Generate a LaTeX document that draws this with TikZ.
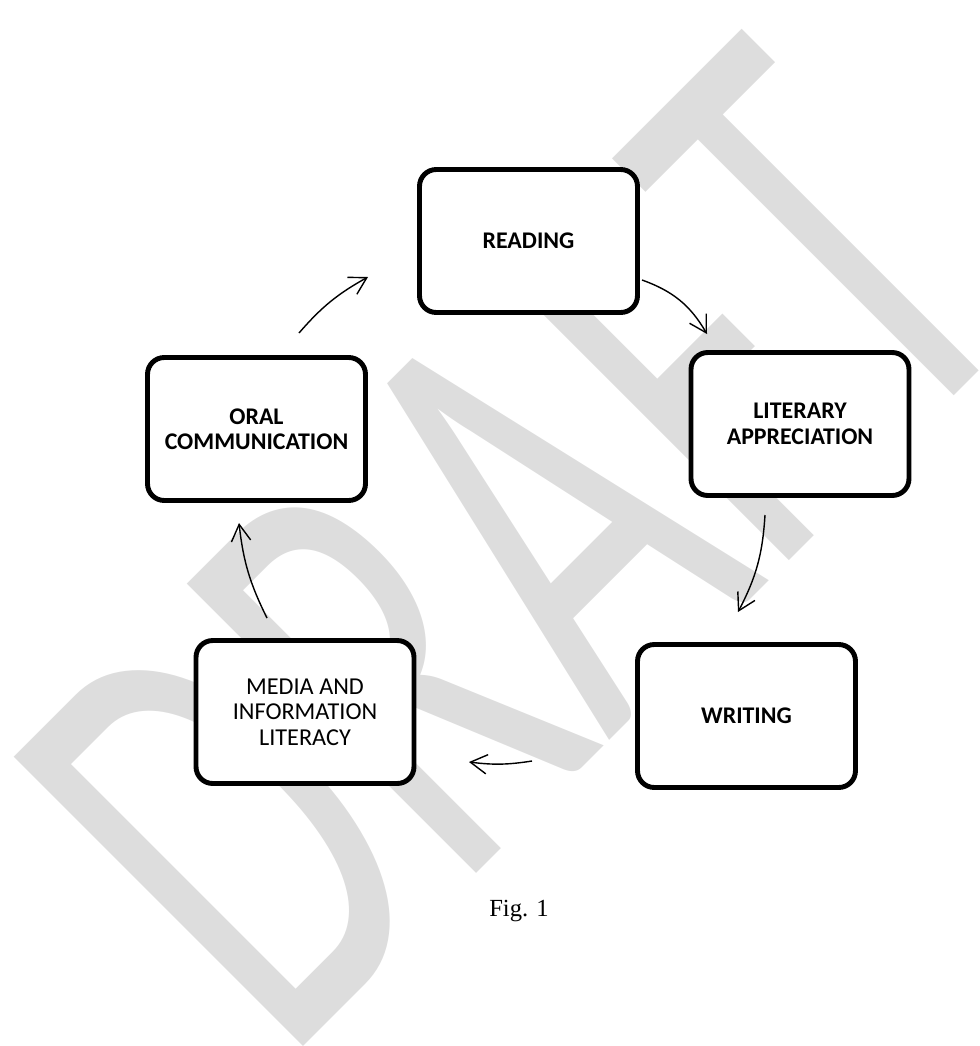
\documentclass[tikz,border=0pt]{standalone}
\usepackage{fontspec}
\setmainfont{Carlito}
\newfontfamily\figfont{Liberation Serif}
\newfontfamily\wmfont[FakeStretch=0.62]{Carlito}
\usepackage{tikz}
\usetikzlibrary{arrows.meta}
\definecolor{wmgray}{RGB}{221,221,221}

\begin{document}
\begin{tikzpicture}[x=0.02cm,y=0.02cm,
  stage/.style={draw,fill=white,line width=2.8pt,rounded corners=9.5pt,minimum width=4.36cm,minimum height=2.86cm,align=center,font=\fontsize{13.6}{14.5}\selectfont\bfseries},
  flow/.style={line width=0.8pt,-{Straight Barb[length=9.5pt,width=11pt]}}]
\useasboundingbox (0,0) rectangle (980,-1046);
\begin{scope}
\clip (0,0) rectangle (980,-1046);
\node (watermark) [anchor=base,rotate=45,text=wmgray,inner sep=0pt,font=\wmfont\fontsize{363}{363}\selectfont] at (660,-690) {DRAFT};
\end{scope}
\node (reading) [stage] at (528.5,-241) {READING};
\node (literary) [stage] at (800,-424) {LITERARY\\APPRECIATION};
\node (writing) [stage] at (746.5,-716) {WRITING};
\node (media) [stage,font=\fontsize{13.8}{14.5}\selectfont] at (305,-712) {MEDIA AND\\INFORMATION\\LITERACY};
\node (oral) [stage] at (256.5,-429) {ORAL\\COMMUNICATION};
\coordinate (o2r) at (299,-333);
\coordinate (r2o) at (368,-277);
\coordinate (r2l) at (642,-280);
\coordinate (l2r) at (707,-334);
\coordinate (l2w) at (765,-515);
\coordinate (w2l) at (738,-612);
\coordinate (w2m) at (532,-761);
\coordinate (m2w) at (469,-762);
\coordinate (m2o) at (267,-618);
\coordinate (o2m) at (239,-523);
\draw [flow] (o2r) to[bend left=10] (r2o);
\draw [flow] (r2l) to[bend left=20] (l2r);
\draw [flow] (l2w) to[bend left=12] (w2l);
\draw [flow] (w2m) to[bend left=8] (m2w);
\draw [flow] (m2o) to[bend left=10] (o2m);
\node (caption) [font=\figfont\fontsize{14}{16}\selectfont] at (519,-911) {Fig. 1};
\end{tikzpicture}
\end{document}
